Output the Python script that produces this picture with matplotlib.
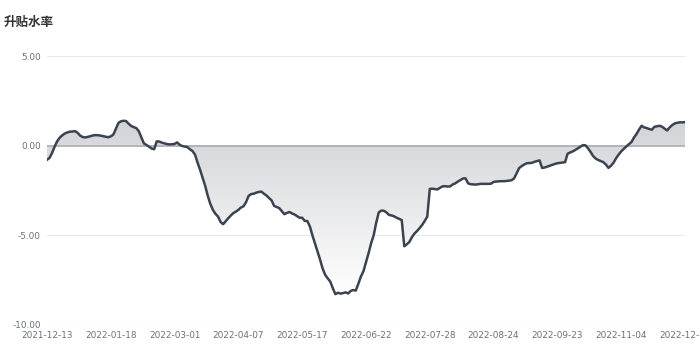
import matplotlib
matplotlib.use("Agg")
import matplotlib.pyplot as plt
import numpy as np
from matplotlib.colors import LinearSegmentedColormap

plt.rcParams["font.family"] = ["DejaVu Sans", "Noto Sans CJK SC"]

# tick labels, one every 25 trading days
tick_labels = [
    "2021-12-13", "2022-01-18", "2022-03-01", "2022-04-07", "2022-05-17",
    "2022-06-22", "2022-07-28", "2022-08-24", "2022-09-23", "2022-11-04",
    "2022-12-09",
]
tick_step = 25

# premium/discount rate (%) per trading day
rate = [
    -0.79, -0.68, -0.40, -0.05, 0.25, 0.45, 0.58, 0.68, 0.74, 0.78,
    0.79, 0.81, 0.72, 0.56, 0.48, 0.46, 0.49, 0.53, 0.57, 0.59,
    0.58, 0.56, 0.53, 0.50, 0.47, 0.52, 0.62, 0.95, 1.27, 1.36,
    1.39, 1.37, 1.22, 1.10, 1.03, 0.98, 0.80, 0.45, 0.12, 0.04,
    -0.06, -0.16, -0.20, 0.24, 0.23, 0.17, 0.13, 0.09, 0.07, 0.08,
    0.10, 0.18, 0.05, -0.02, -0.05, -0.08, -0.20, -0.30, -0.50, -0.95,
    -1.35, -1.80, -2.25, -2.80, -3.25, -3.58, -3.80, -3.95, -4.25, -4.38,
    -4.22, -4.05, -3.90, -3.76, -3.68, -3.58, -3.45, -3.38, -3.15, -2.80,
    -2.70, -2.68, -2.62, -2.58, -2.56, -2.68, -2.78, -2.92, -3.05, -3.36,
    -3.42, -3.48, -3.65, -3.82, -3.75, -3.70, -3.78, -3.84, -3.93, -4.02,
    -4.02, -4.20, -4.20, -4.50, -5.00, -5.46, -5.90, -6.35, -6.85, -7.20,
    -7.40, -7.58, -7.95, -8.28, -8.20, -8.25, -8.22, -8.18, -8.24, -8.10,
    -8.05, -8.08, -7.70, -7.30, -7.00, -6.50, -6.00, -5.45, -5.00, -4.30,
    -3.72, -3.62, -3.63, -3.72, -3.86, -3.89, -3.94, -4.02, -4.08, -4.15,
    -5.61, -5.50, -5.37, -5.10, -4.90, -4.76, -4.60, -4.42, -4.20, -3.96,
    -2.41, -2.40, -2.42, -2.44, -2.35, -2.27, -2.26, -2.28, -2.27, -2.16,
    -2.10, -2.00, -1.92, -1.83, -1.82, -2.10, -2.15, -2.16, -2.17, -2.15,
    -2.13, -2.13, -2.13, -2.13, -2.12, -2.02, -2.00, -1.99, -1.98, -1.98,
    -1.97, -1.95, -1.93, -1.83, -1.55, -1.25, -1.14, -1.05, -0.98, -0.97,
    -0.96, -0.90, -0.86, -0.82, -1.24, -1.22, -1.17, -1.12, -1.07, -1.02,
    -0.98, -0.96, -0.94, -0.92, -0.45, -0.38, -0.32, -0.24, -0.15, -0.06,
    0.03, 0.02, -0.15, -0.35, -0.58, -0.72, -0.80, -0.86, -0.92, -1.05,
    -1.24, -1.12, -0.95, -0.70, -0.50, -0.32, -0.18, -0.05, 0.08, 0.20,
    0.45, 0.65, 0.90, 1.11, 1.02, 0.98, 0.93, 0.89, 1.05, 1.08,
    1.11, 1.06, 0.95, 0.85, 1.02, 1.15, 1.24, 1.28, 1.30, 1.30,
    1.31,
]

x = np.arange(len(rate))
y = np.array(rate)

fig = plt.figure(figsize=(7, 3.5), dpi=100)
ax = fig.add_axes([47 / 700, 25 / 350, 638 / 700, 269 / 350])

# gradient area between the line and zero
area = ax.fill_between(x, y, 0, facecolor="none", edgecolor="none")
cmap = LinearSegmentedColormap.from_list("g", ["#ffffff", "#d2d3d7"])
grad = np.linspace(0, 1, 256).reshape(-1, 1)
img = ax.imshow(grad, cmap=cmap, aspect="auto", origin="lower",
                extent=[x[0], x[-1], y.min(), y.max()], zorder=1)
img.set_clip_path(area.get_paths()[0], transform=ax.transData)

ax.axhline(0, color="#a9abb0", lw=1.2, zorder=2)
ax.plot(x, y, color="#3b4350", lw=1.8, zorder=3, solid_joinstyle="round")

ax.set_xlim(x[0], x[-1])
ax.set_ylim(-10, 5)
ax.set_yticks([5, 0, -5, -10])
ax.set_yticklabels(["5.00", "0.00", "-5.00", "-10.00"])
for v in [5, -5, -10]:
    ax.axhline(v, color="#e6e9f2", lw=0.8, zorder=0)

ax.set_xticks(np.arange(0, len(rate), tick_step)[:len(tick_labels)])
ax.set_xticklabels(tick_labels)
ax.tick_params(axis="both", length=0, labelsize=6.4, colors="#6e7079")
ax.tick_params(axis="x", pad=4)
ax.tick_params(axis="y", pad=4.5)
for s in ax.spines.values():
    s.set_visible(False)
ax.patch.set_alpha(0)

fig.text(4 / 700, 1 - 22 / 350, "升贴水率", fontsize=9, fontweight="bold",
         color="#333333", va="center", ha="left")

fig.savefig("out.png", dpi=100)
